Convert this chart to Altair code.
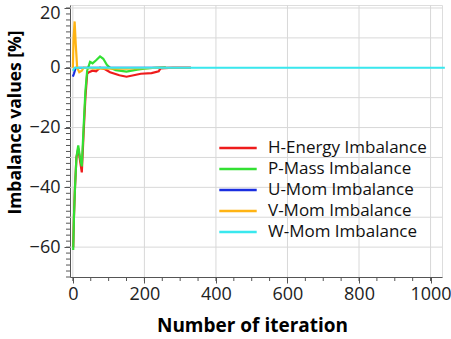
import altair as alt
import pandas as pd

series_names = ["H-Energy Imbalance", "P-Mass Imbalance", "U-Mom Imbalance", "V-Mom Imbalance", "W-Mom Imbalance"]
colors = ["#ee1c1c", "#33e033", "#1a2ee0", "#ffb414", "#3ae8ee"]

h_iter = [1, 3, 6, 10, 15, 20, 25, 30, 35, 40, 45, 55, 65, 76, 90, 104, 130, 150, 170, 190, 220, 240, 245, 280, 330]
h_vals = [-60, -50, -40, -30, -27, -31, -35, -22, -10, -2, -1.5, -1, -1.2, 0, -0.5, -1.5, -2.5, -3, -2.5, -2, -1.8, -1.2, -0.2, 0, 0]

p_iter = [1, 3, 6, 10, 15, 20, 25, 30, 35, 40, 48, 55, 65, 76, 85, 95, 104, 120, 150, 180, 200, 230, 260]
p_vals = [-61, -50, -40, -30, -26, -30, -33, -20, -8, -1, 2, 1.5, 2.5, 3.8, 3, 1, 0, -0.8, -1.3, -0.6, -0.3, 0, 0.1]

u_iter = [0, 3, 8, 20, 330]
u_vals = [-3, -2, 0, 0, 0]

v_iter = [0, 2, 5, 8, 12, 18, 25, 30, 60, 150, 250, 330]
v_vals = [0, 10, 15.5, 8, 0, -1.5, -1, 0, -0.3, -0.3, 0, 0]

w_iter = [0, 5, 20, 1040]
w_vals = [-1, 0, 0, 0]

rows = []
for name, its, vals in zip(series_names, [h_iter, p_iter, u_iter, v_iter, w_iter],
                           [h_vals, p_vals, u_vals, v_vals, w_vals]):
    for i, v in zip(its, vals):
        rows.append({"series": name, "iteration": i, "value": v})
df = pd.DataFrame(rows)

x_major = [0, 200, 400, 600, 800, 1000]
x_minor = list(range(0, 1040, 50))
y_major = [20, 0, -20, -40, -60]
y_grid = list(range(-60, 21, 10))
y_minor = list(range(-70, 21, 2))

FONT = "Open Sans"
xscale = alt.Scale(domain=[-8, 1032], nice=False, zero=False)
yscale = alt.Scale(domain=[-70, 21], nice=False, zero=False)

xaxis = alt.Axis(values=x_major, format="d", title="Number of iteration", titleFont=FONT,
                 titleFontSize=19, titleFontWeight="bold", titleColor="black",
                 titleX=182, titleY=48, titleAlign="center", titleBaseline="middle",
                 labelFont=FONT, labelFontSize=18, labelColor="#222222",
                 labelPadding=2, tickSize=6, tickColor="#555555",
                 domainColor="#555555", grid=False)
yaxis = alt.Axis(values=y_major, format="d", title="Imbalance values [%]", titleFont=FONT,
                 titleFontSize=17.5, titleFontWeight="bold", titleColor="black",
                 titleX=-55, titleY=117, titleAlign="center", titleBaseline="middle",
                 titleAngle=-90,
                 labelFont=FONT, labelFontSize=18, labelColor="#222222",
                 labelOffset={"condition": {"test": "datum.value == 20", "value": 6}, "value": 0},
                 labelPadding=4, tickSize=6, tickColor="#555555",
                 domainColor="#555555", grid=False)

lines = alt.Chart(df).mark_line(strokeWidth=2.2).encode(
    x=alt.X("iteration:Q", scale=xscale, axis=xaxis),
    y=alt.Y("value:Q", scale=yscale, axis=yaxis),
    color=alt.Color("series:N", scale=alt.Scale(domain=series_names, range=colors),
                    sort=series_names,
                    legend=alt.Legend(title=None, orient="none", legendX=148, legendY=134,
                                      symbolType="stroke", symbolSize=1400, symbolStrokeWidth=2.5,
                                      labelFont=FONT, labelFontSize=17, labelColor="#111111",
                                      labelLimit=260, clipHeight=18, rowPadding=3,
                                      labelOffset=10, symbolOffset=0)),
    order=alt.Order("iteration:Q"),
)

grid_x = alt.Chart(pd.DataFrame({"iteration": x_major})).mark_rule(color="#d8d8d8", strokeWidth=1).encode(
    x=alt.X("iteration:Q", scale=xscale, axis=xaxis))
grid_y = alt.Chart(pd.DataFrame({"value": y_grid})).mark_rule(color="#d8d8d8", strokeWidth=1).encode(
    y=alt.Y("value:Q", scale=yscale, axis=yaxis))

minor_x = alt.Chart(pd.DataFrame({"iteration": x_minor})).mark_rule(color="#555555", strokeWidth=1).encode(
    x=alt.X("iteration:Q", scale=xscale, axis=xaxis),
    y=alt.value(272), y2=alt.value(276))
minor_y = alt.Chart(pd.DataFrame({"value": y_minor})).mark_rule(color="#555555", strokeWidth=1).encode(
    y=alt.Y("value:Q", scale=yscale, axis=yaxis),
    x=alt.value(-4), x2=alt.value(0))

chart = alt.layer(grid_x, grid_y, lines, minor_x, minor_y).properties(
    width=372, height=272,
    autosize=alt.AutoSizeParams(type="none"),
    padding={"left": 70, "top": 5, "right": 9, "bottom": 62},
).configure_view(stroke="#9a9a9a", strokeWidth=1.5).configure(background="white")

chart.save("out.html", embed_options={"renderer": "svg", "actions": False})
